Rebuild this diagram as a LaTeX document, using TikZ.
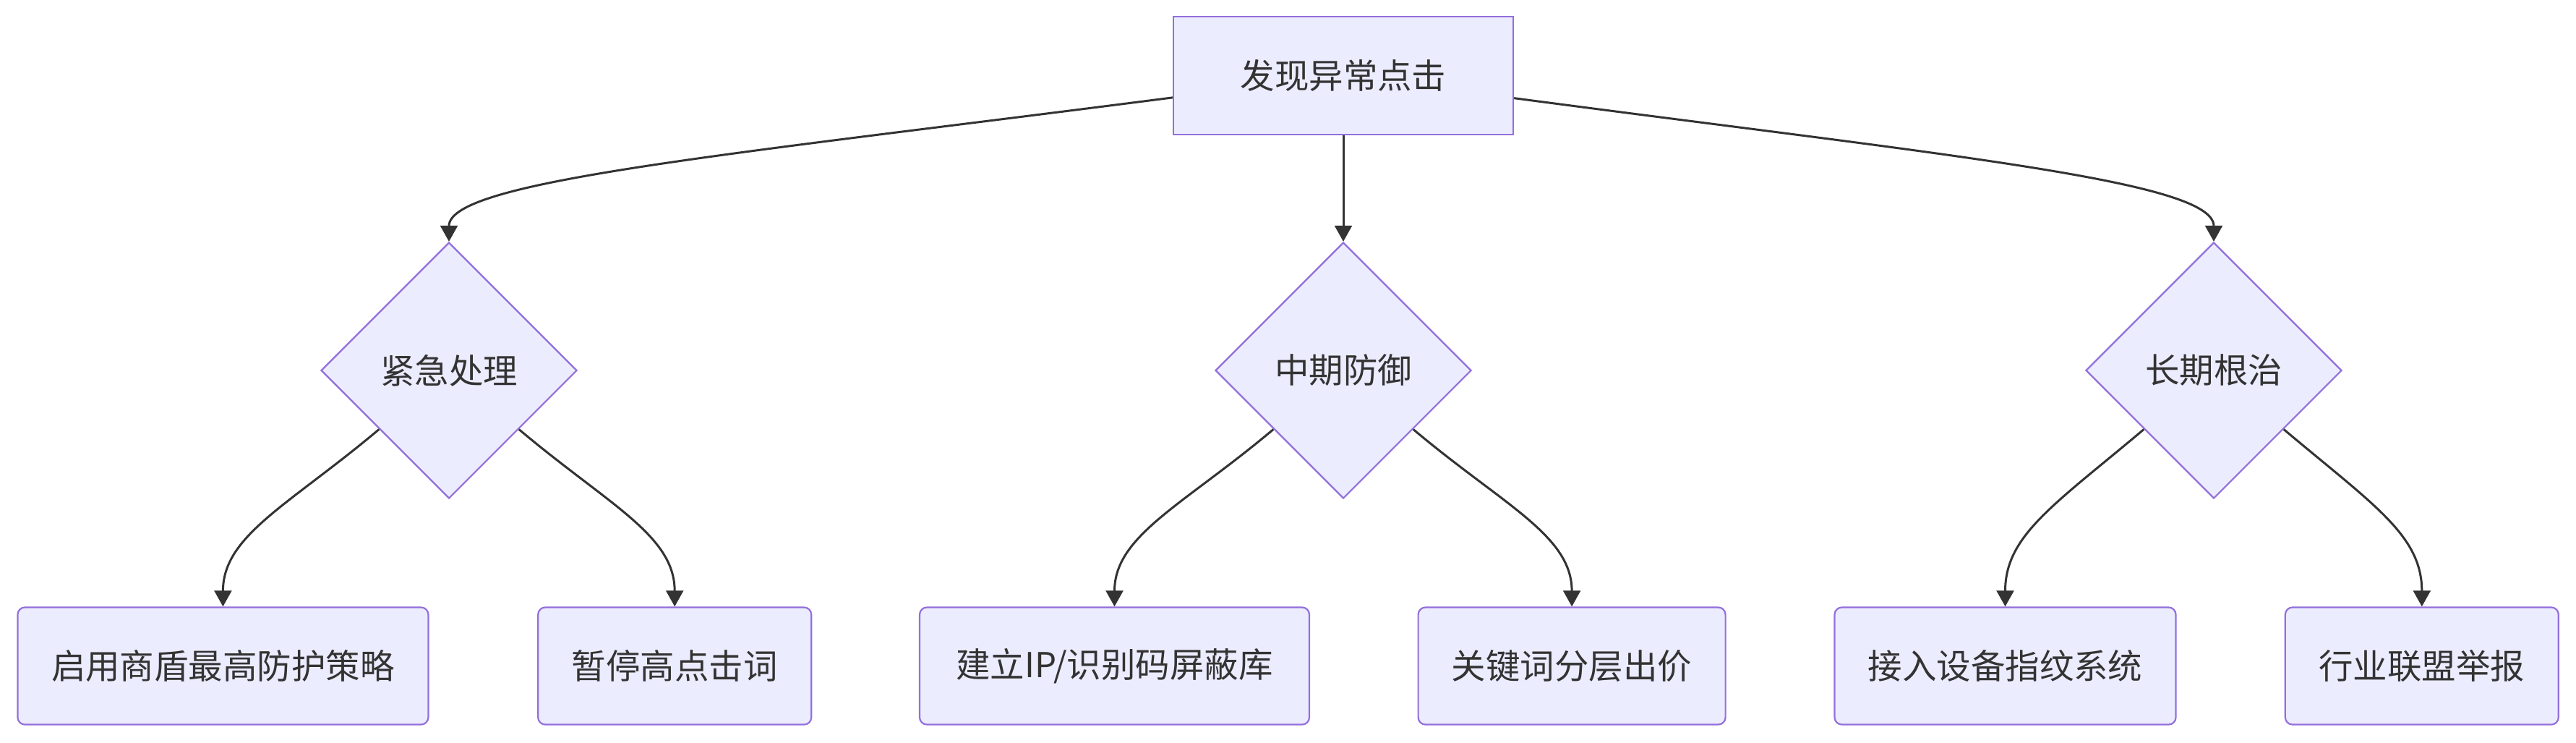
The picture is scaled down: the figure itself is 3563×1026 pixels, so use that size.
\documentclass[tikz,border=0pt]{standalone}
\usepackage{fontspec}
\newfontfamily\cjk{Noto Sans CJK SC}
\usetikzlibrary{shapes.geometric,arrows.meta}
\definecolor{nodefill}{HTML}{ECECFF}
\definecolor{nodeline}{HTML}{9370DB}
\definecolor{txt}{HTML}{333333}
\tikzset{
  base/.style={fill=nodefill,draw=nodeline,line width=0.63pt,text=txt,
    font=\cjk\fontsize{13.5}{16}\selectfont,inner sep=0pt},
  rootbox/.style={base,rectangle,minimum width=470\pgfxunitlen,minimum height=163\pgfxunitlen},
  decide/.style={base,diamond,aspect=1,minimum width=354\pgfxunitlen,minimum height=354\pgfxunitlen},
  leaf/.style={base,rectangle,rounded corners=2.85pt,minimum height=162\pgfxunitlen},
  edge/.style={draw=txt,line width=0.85pt,-{Triangle[length=6.3pt,width=6.8pt]}}
}
\newlength{\pgfxunitlen}
\setlength{\pgfxunitlen}{0.01cm}
\begin{document}
\begin{tikzpicture}[x=0.01cm,y=-0.01cm]
\useasboundingbox (0,0) rectangle (3563,1026);
\node[rootbox] (top) at (1858,104.5) {发现异常点击};
\node[decide] (d1) at (621,512) {紧急处理};
\node[decide] (d2) at (1858,512) {中期防御};
\node[decide] (d3) at (3062,512) {长期根治};
\node[leaf,minimum width=568\pgfxunitlen] (b1) at (308.4,920.5) {启用商盾最高防护策略};
\node[leaf,minimum width=378\pgfxunitlen] (b2) at (933.2,920.5) {暂停高点击词};
\node[leaf,minimum width=539\pgfxunitlen] (b3) at (1541.5,920.5) {建立IP/识别码屏蔽库};
\node[leaf,minimum width=425\pgfxunitlen] (b4) at (2174.1,920.5) {关键词分层出价};
\node[leaf,minimum width=472\pgfxunitlen] (b5) at (2773.5,920.5) {接入设备指纹系统};
\node[leaf,minimum width=378\pgfxunitlen] (b6) at (3349.8,920.5) {行业联盟举报};
\draw[edge] (top) .. controls (1000,215) and (621,250) .. (d1.north);
\draw[edge] (top) -- (d2.north);
\draw[edge] (top) .. controls (2694,215) and (3062,250) .. (d3.north);
\draw[edge] (d1) .. controls (400,698) and (308.4,740) .. (b1.north);
\draw[edge] (d1) .. controls (842,698) and (933.2,740) .. (b2.north);
\draw[edge] (d2) .. controls (1637,698) and (1541.5,740) .. (b3.north);
\draw[edge] (d2) .. controls (2079,698) and (2174.1,740) .. (b4.north);
\draw[edge] (d3) .. controls (2841,698) and (2773.5,740) .. (b5.north);
\draw[edge] (d3) .. controls (3283,698) and (3349.8,740) .. (b6.north);
\end{tikzpicture}
\end{document}
